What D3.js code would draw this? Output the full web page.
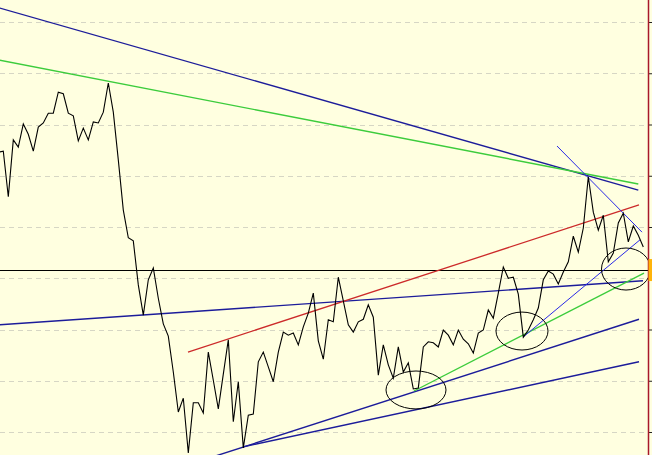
<!DOCTYPE html>
<html><head><meta charset="utf-8">
<script src="https://cdn.jsdelivr.net/npm/d3@7/dist/d3.min.js"></script>
<style>html,body{margin:0;padding:0;background:#ffffe0;overflow:hidden}</style>
</head><body><div id="chart"></div>
<script>
// ---- data (price per bar, index 0..129) ----
const prices = [
64.6,64.8,55.9,67.0,65.6,70.1,68.1,64.8,69.5,70.3,
72.2,72.2,76.3,76.0,72.2,71.7,66.8,69.3,67.0,70.5,
70.3,72.4,78.1,72.4,63.1,53.3,47.9,47.3,38.7,32.8,
39.7,42.0,36.1,31.1,28.7,21.7,13.9,16.6,5.9,15.7,
15.7,13.7,25.6,20.1,14.5,21.3,28.0,12.0,19.8,6.9,
13.3,13.5,23.7,25.6,22.7,19.8,25.6,29.5,28.9,29.3,
27.0,30.5,33.2,37.1,27.8,24.2,31.9,31.5,40.2,35.6,
30.9,29.5,31.5,32.0,34.8,32.4,21.1,27.0,23.1,20.5,
26.6,21.7,23.5,18.4,18.6,26.6,27.6,27.4,26.6,29.9,
28.9,27.0,29.9,28.1,27.2,25.4,29.3,29.9,33.8,32.2,
37.1,42.2,40.0,40.2,36.9,28.5,29.9,31.9,34.2,39.7,
41.4,40.8,38.9,41.2,43.2,48.2,45.1,49.8,59.8,52.9,
49.4,52.3,43.2,44.9,50.8,52.7,47.1,50.2,48.4,46.1
];
const gridTicks = [10,20,30,40,50,60,70,80,90];
const lastPrice = 41.6;
// trendlines: [index1, price1, index2, price2]
const trendNavy = [[0,92.8,128,57.2],[0,30.9,128.94,39.5],[42.74,5.1,128.14,32.0],[48.94,7.1,128.14,23.7]];
const trendGreen = [[0,82.6,128,58.4],[83.14,18.0,129.14,41.0]];
const trendBlueThin = [[111.74,65.8,128.74,49.0],[104.94,28.5,128.34,47.5]];
const trendRed = [[37.94,25.6,128.14,54.3]];
// ellipses: [centre index, centre price, half-width in bars, half-height in price]
const ellipses = [[83.54,18.2,6,3.7],[104.74,29.7,5.2,3.7],[125.54,41.8,4.9,4.1]];

const W = 652, H = 455, axisX = 648;
const x = d3.scaleLinear().domain([0, 129]).range([-1.7, 643.3]);
const y = d3.scaleLinear().domain([10, 90]).range([432, 22]);

const svg = d3.select('#chart').append('svg').attr('width', W).attr('height', H)
  .style('display','block').style('background','#ffffe0');
svg.append('defs').append('clipPath').attr('id','plot')
  .append('rect').attr('x',0).attr('y',0).attr('width',axisX).attr('height',H);

// grid
svg.append('g').selectAll('line').data(gridTicks).join('line')
  .attr('x1',0).attr('x2',axisX).attr('y1',d=>Math.round(y(d))+0.5).attr('y2',d=>Math.round(y(d))+0.5)
  .attr('stroke','#d6d6c4').attr('stroke-width',1).attr('stroke-dasharray','5,4');

const plot = svg.append('g').attr('clip-path','url(#plot)');

// last price horizontal line
plot.append('line').attr('x1',0).attr('x2',axisX)
  .attr('y1',Math.round(y(lastPrice))+0.5).attr('y2',Math.round(y(lastPrice))+0.5)
  .attr('stroke','#000').attr('stroke-width',1);

function drawLines(data, color, width) {
  plot.append('g').selectAll('line').data(data).join('line')
    .attr('x1',d=>x(d[0])).attr('y1',d=>y(d[1])).attr('x2',d=>x(d[2])).attr('y2',d=>y(d[3]))
    .attr('stroke',color).attr('stroke-width',width);
}
drawLines(trendNavy, '#1c1c9a', 1.4);
drawLines(trendGreen, '#3ccc3c', 1.4);
drawLines(trendRed, '#cc2a2a', 1.3);
drawLines(trendBlueThin, '#2a2ae6', 1);

// price line
const line = d3.line().x((d,i)=>x(i)).y(d=>y(d));
plot.append('path').datum(prices).attr('d',line)
  .attr('fill','none').attr('stroke','#000').attr('stroke-width',1.1);

// ellipses
svg.append('g').selectAll('ellipse').data(ellipses).join('ellipse')
  .attr('cx',d=>x(d[0])).attr('cy',d=>y(d[1]))
  .attr('rx',d=>x(d[0]+d[2])-x(d[0])).attr('ry',d=>y(d[1]-d[3])-y(d[1]))
  .attr('fill','none').attr('stroke','#000').attr('stroke-width',1);

// right axis
const axis = d3.axisRight(y).tickValues(gridTicks).tickSize(4).tickFormat('');
const ag = svg.append('g').attr('transform',`translate(${axisX},0)`).call(axis);
ag.select('.domain').remove();
ag.selectAll('.tick line').attr('stroke','#222');
svg.append('line').attr('x1',axisX+0.5).attr('x2',axisX+0.5).attr('y1',0).attr('y2',H)
  .attr('stroke','#a8182a').attr('stroke-width',1.5);

// last price marker
svg.append('rect').attr('x',axisX+0.5).attr('width',W-axisX)
  .attr('y',y(lastPrice)-11).attr('height',22).attr('fill','#ffb40a');
</script></body></html>
